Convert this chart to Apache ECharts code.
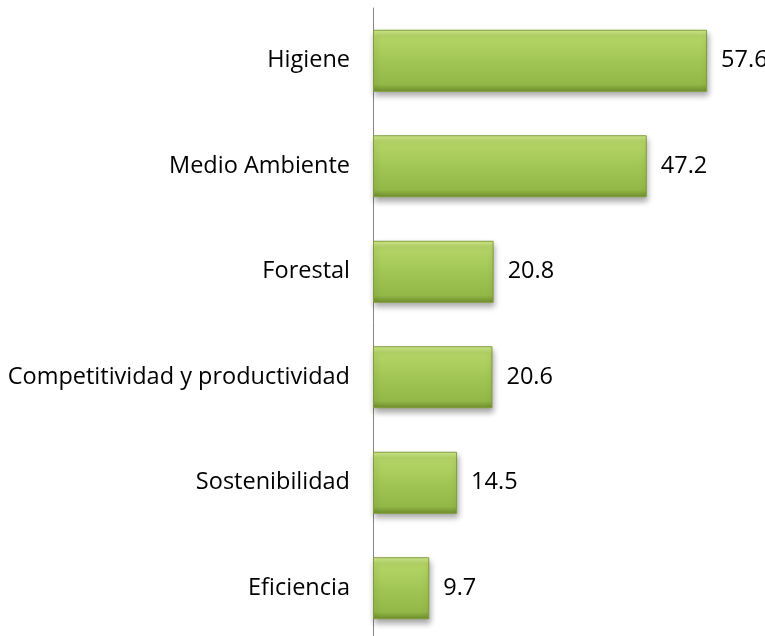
<!DOCTYPE html>
<html>
<head>
<meta charset="utf-8">
<script src="https://cdn.jsdelivr.net/npm/echarts@6/dist/echarts.min.js"></script>
<style>
  html, body { margin: 0; padding: 0; background: #fff; }
  #main { width: 765px; height: 636px; }
</style>
</head>
<body>
<div id="main"></div>
<script>
var categories = [
  'Higiene',
  'Medio Ambiente',
  'Forestal',
  'Competitividad y productividad',
  'Sostenibilidad',
  'Eficiencia'
];
var values = [57.6, 47.2, 20.8, 20.6, 14.5, 9.7];

var barColor = new echarts.graphic.LinearGradient(0, 0, 0, 1, [
  { offset: 0, color: '#d2ea8e' },
  { offset: 0.1, color: '#b6d668' },
  { offset: 0.5, color: '#a2c655' },
  { offset: 0.88, color: '#94b848' },
  { offset: 1, color: '#6e8d2c' }
]);

var option = {
  animation: false,
  grid: {
    left: 373,
    top: 8,
    right: 44,
    bottom: -5,
    outerBoundsMode: 'none'
  },
  xAxis: {
    type: 'value',
    min: 0,
    max: 60,
    show: false
  },
  yAxis: {
    type: 'category',
    inverse: true,
    data: categories,
    axisLine: { show: true, lineStyle: { color: '#868686', width: 1 } },
    axisTick: { show: false },
    axisLabel: {
      margin: 23,
      color: '#000',
      fontFamily: 'Open Sans',
      fontSize: 23.5
    }
  },
  series: [
    {
      type: 'bar',
      data: values,
      barWidth: 62,
      itemStyle: {
        color: barColor,
        borderColor: '#7f9e3a',
        borderWidth: 1,
        shadowColor: 'rgba(0,0,0,0.35)',
        shadowBlur: 6,
        shadowOffsetX: 1,
        shadowOffsetY: 4
      },
      label: {
        show: true,
        position: 'right',
        distance: 14,
        color: '#000',
        fontFamily: 'Open Sans',
        fontSize: 23.5,
        formatter: function (p) { return p.value.toFixed(1); }
      }
    }
  ]
};

var chartDom = document.getElementById('main');
var myChart = echarts.init(chartDom);
option && myChart.setOption(option);
</script>
</body>
</html>
